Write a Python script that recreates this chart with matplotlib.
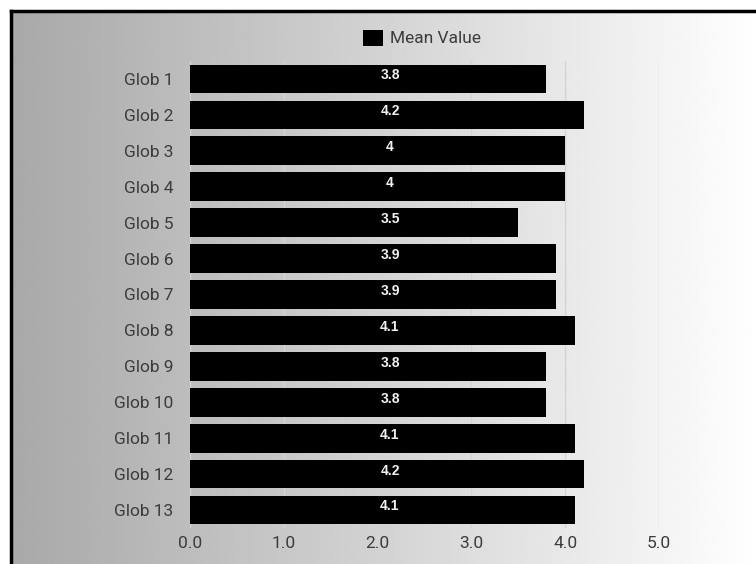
import numpy as np
import matplotlib.pyplot as plt

# data
globs = ['Glob 1', 'Glob 2', 'Glob 3', 'Glob 4', 'Glob 5', 'Glob 6', 'Glob 7',
         'Glob 8', 'Glob 9', 'Glob 10', 'Glob 11', 'Glob 12', 'Glob 13']
mean_values = [3.8, 4.2, 4, 4, 3.5, 3.9, 3.9, 4.1, 3.8, 3.8, 4.1, 4.2, 4.1]
value_labels = ['3.8', '4.2', '4', '4', '3.5', '3.9', '3.9', '4.1', '3.8', '3.8', '4.1', '4.2', '4.1']
x_ticks = [0, 1, 2, 3, 4, 5]

W, H = 756, 564
fig = plt.figure(figsize=(W / 100, H / 100), dpi=100)
fig.patch.set_facecolor('white')

# background: grey-to-white gradient, black frame on the left and top only
bg = fig.add_axes([0, 0, 1, 1], zorder=-10)
grad = np.linspace(0.66, 1.0, 256).reshape(1, -1)
bg.imshow(grad, cmap='gray', vmin=0, vmax=1, aspect='auto',
          extent=(10, W + 5, H + 5, 10), interpolation='bilinear')
bg.plot([11, 11], [H + 5, 11], color='black', linewidth=2.5, solid_capstyle='projecting')
bg.plot([11, W + 5], [11, 11], color='black', linewidth=2.5, solid_capstyle='projecting')
bg.set_xlim(0, W)
bg.set_ylim(H, 0)
bg.axis('off')

ax = fig.add_axes([190 / W, 1 - 528 / H, (659 - 190) / W, (528 - 61) / H])
ax.patch.set_alpha(0)
y = np.arange(len(globs))
bars = ax.barh(y, mean_values, height=0.8, color='black', label='Mean Value', zorder=3)
ax.set_ylim(len(globs) - 0.5, -0.5)
ax.set_xlim(0, 5)
ax.set_xticks(x_ticks)
ax.set_xticklabels([f'{t:.1f}' for t in x_ticks])
ax.set_yticks(y)
ax.set_yticklabels(globs)
ax.tick_params(axis='both', length=0, labelsize=12.5, labelcolor='#3c3c3c')
ax.tick_params(axis='y', pad=12)
ax.tick_params(axis='x', pad=6)
for lab in ax.get_xticklabels() + ax.get_yticklabels():
    lab.set_fontfamily('Roboto')
ax.grid(axis='x', color='#d4d4d4', linewidth=1, zorder=0)
for s in ax.spines.values():
    s.set_visible(False)

for yi, lab in zip(y, value_labels):
    ax.text(0.4264, yi - 0.1, lab, transform=ax.get_yaxis_transform(),
            ha='center', va='center', color='#f0f0f0', fontsize=10,
            fontweight='bold', family='Liberation Sans', zorder=4)

leg = fig.legend(handles=[bars], loc='center', bbox_to_anchor=(422 / W, 1 - 38 / H),
                 frameon=False, handlelength=1.15, handleheight=1.05, handletextpad=0.45,
                 prop={'family': 'Roboto', 'size': 12.5})
for t in leg.get_texts():
    t.set_color('#3c3c3c')

fig.savefig('out.png', dpi=100)
